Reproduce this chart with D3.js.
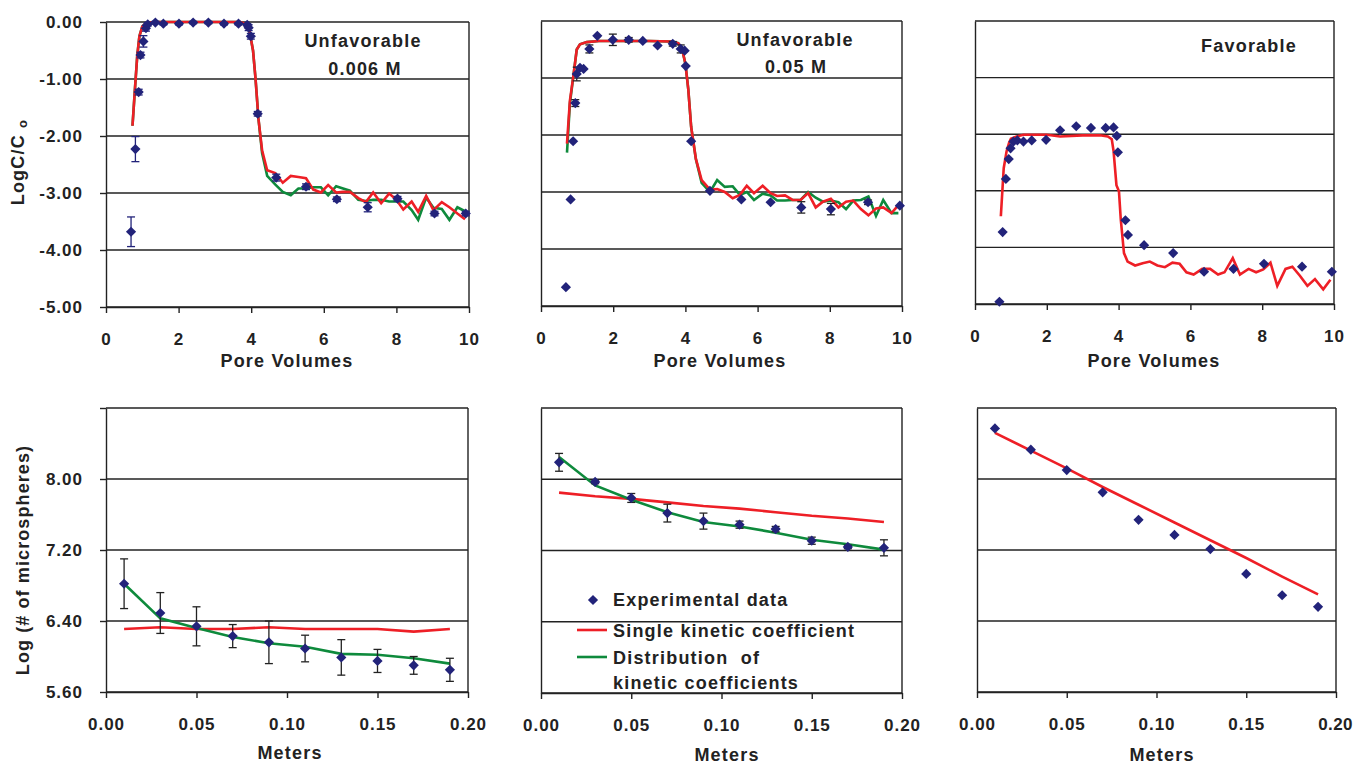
<!DOCTYPE html>
<html><head><meta charset="utf-8">
<script src="https://cdn.jsdelivr.net/npm/d3@7"></script>
<style>body{margin:0;background:#fff}</style>
</head><body><svg id="c" width="1353" height="767"></svg>
<script>
// ---------- tick labels ----------
const pvTicks = [0, 2, 4, 6, 8, 10];
const logCTicks = [0, -1, -2, -3, -4, -5];
const meterTicks = [0, 0.05, 0.10, 0.15, 0.20];
const microTicks = [5.6, 6.4, 7.2, 8.0, 8.8];
const microLabelled = [5.6, 6.4, 7.2, 8.0];

// ---------- top-left: Unfavorable 0.006 M ----------
const ufLowPV = [0.69,0.81,0.90,0.95,1.03,1.10,1.15,1.36,1.58,2.01,2.40,2.82,3.25,3.65,3.89,3.93,3.99,4.18,4.69,5.51,6.36,7.21,8.03,9.05,9.91];
const ufLowObs = [-3.68,-2.23,-1.23,-0.58,-0.34,-0.11,-0.04,-0.01,-0.03,-0.03,-0.01,-0.01,-0.03,-0.03,-0.05,-0.10,-0.25,-1.61,-2.73,-2.89,-3.11,-3.25,-3.10,-3.36,-3.36];
const ufLowErr = [0.26,0.22,0.05,0.05,0.10,0.05,0.03,0.02,0.02,0.02,0.02,0.02,0.02,0.02,0.02,0.05,0.05,0.04,0.06,0.05,0.04,0.08,0.04,0.04,0.04];
const ufLowModelPV = [0.73,0.80,0.86,0.92,1.0,1.1,1.3,2.0,3.0,3.7,3.85,3.95,4.05,4.12,4.2,4.3,4.44,4.66,4.87,5.09,5.30,5.51,5.71,5.92,6.12,6.34,6.53,6.72,6.95,7.16,7.36,7.58,7.80,7.99,8.19,8.42,8.60,8.82,9.02,9.25,9.46,9.68,9.89];
const ufLowSingle = [-1.82,-1.15,-0.6,-0.25,-0.08,-0.02,0,0,0,0,-0.03,-0.15,-0.5,-1.0,-1.7,-2.25,-2.6,-2.65,-2.82,-2.70,-2.72,-2.74,-2.94,-2.99,-2.86,-2.99,-2.98,-2.98,-3.09,-3.16,-2.99,-3.18,-3.01,-3.11,-3.29,-3.15,-3.33,-3.05,-3.30,-3.16,-3.25,-3.36,-3.46];
const ufLowDist = [-1.82,-1.15,-0.6,-0.25,-0.08,-0.02,0,0,0,0,-0.03,-0.15,-0.5,-1.0,-1.7,-2.3,-2.7,-2.85,-2.98,-3.04,-2.92,-2.92,-2.90,-2.90,-3.04,-2.88,-2.92,-2.96,-3.12,-3.14,-3.12,-3.12,-3.15,-3.15,-3.15,-3.30,-3.47,-3.08,-3.26,-3.28,-3.47,-3.25,-3.32];

// ---------- top-middle: Unfavorable 0.05 M ----------
const ufHighPV = [0.69,0.82,0.89,0.95,0.99,1.08,1.18,1.34,1.56,1.99,2.43,2.82,3.23,3.65,3.87,3.98,4.01,4.16,4.68,5.55,6.36,7.21,8.03,9.06,9.94];
const ufHighObs = [-4.67,-3.13,-2.11,-1.44,-0.93,-0.82,-0.84,-0.49,-0.26,-0.33,-0.33,-0.35,-0.43,-0.40,-0.49,-0.52,-0.79,-2.11,-2.98,-3.13,-3.18,-3.27,-3.30,-3.18,-3.24];
const ufHighErr = [0,0,0,0.06,0.12,0,0,0.07,0,0.10,0.04,0,0,0.04,0.07,0,0,0,0,0,0,0.10,0.10,0.04,0];
const ufHighModelPV = [0.72,0.80,0.90,0.99,1.08,1.27,1.6,2.0,3.0,3.6,3.80,3.9,4.0,4.08,4.16,4.29,4.45,4.68,4.88,5.09,5.31,5.51,5.70,5.90,6.14,6.36,6.54,6.76,6.97,7.19,7.40,7.61,7.81,8.03,8.24,8.45,8.65,8.86,9.07,9.28,9.48,9.71,9.90];
const ufHighSingle = [-2.15,-1.4,-0.95,-0.5,-0.41,-0.37,-0.35,-0.35,-0.35,-0.36,-0.39,-0.47,-0.75,-1.2,-1.86,-2.42,-2.79,-2.96,-2.95,-3.0,-3.11,-3.05,-2.89,-3.02,-2.89,-3.02,-3.07,-3.06,-3.14,-3.14,-3.02,-3.27,-3.17,-3.12,-3.27,-3.17,-3.15,-3.30,-3.41,-3.29,-3.27,-3.37,-3.23];
const ufHighDist = [-2.31,-1.45,-0.95,-0.5,-0.41,-0.37,-0.35,-0.35,-0.35,-0.36,-0.39,-0.47,-0.75,-1.2,-1.86,-2.42,-2.84,-3.0,-2.79,-2.91,-2.9,-3.05,-3.0,-3.14,-3.03,-3.06,-3.15,-3.15,-3.14,-3.14,-3.0,-3.1,-3.17,-3.15,-3.18,-3.30,-3.15,-3.14,-3.08,-3.42,-3.14,-3.37,-3.37];

// ---------- top-right: Favorable ----------
const favPV = [0.68,0.77,0.86,0.94,0.99,1.07,1.18,1.35,1.58,1.98,2.37,2.82,3.23,3.64,3.86,3.95,3.98,4.19,4.26,4.71,5.52,6.38,7.20,8.05,9.11,9.94];
const favObs = [-4.96,-3.73,-2.79,-2.44,-2.25,-2.13,-2.11,-2.13,-2.11,-2.10,-1.93,-1.86,-1.89,-1.89,-1.88,-2.03,-2.32,-3.52,-3.78,-3.96,-4.10,-4.43,-4.38,-4.29,-4.34,-4.43];
const favModelPV = [0.72,0.80,0.88,0.95,1.0,1.16,1.35,2.0,2.37,3.0,3.48,3.70,3.81,3.86,3.94,4.01,4.06,4.15,4.25,4.46,4.67,4.87,5.08,5.29,5.50,5.70,5.89,6.09,6.33,6.55,6.77,6.95,7.18,7.38,7.62,7.83,8.03,8.23,8.42,8.65,8.84,9.05,9.26,9.47,9.70,9.90];
const favSingle = [-3.45,-2.6,-2.3,-2.15,-2.08,-2.04,-2.01,-2.01,-2.04,-2.02,-2.02,-2.04,-2.09,-2.3,-2.9,-3.01,-3.5,-4.1,-4.25,-4.32,-4.28,-4.25,-4.32,-4.35,-4.27,-4.29,-4.44,-4.48,-4.38,-4.38,-4.48,-4.44,-4.19,-4.48,-4.38,-4.44,-4.39,-4.27,-4.68,-4.38,-4.34,-4.50,-4.68,-4.56,-4.74,-4.57];

// ---------- bottom row: retained microspheres vs distance ----------
const meters = [0.01,0.03,0.05,0.07,0.09,0.11,0.13,0.15,0.17,0.19];
const retLowObs = [6.82,6.49,6.34,6.23,6.16,6.09,5.99,5.95,5.90,5.85];
const retLowErr = [0.28,0.23,0.22,0.13,0.24,0.15,0.20,0.13,0.10,0.13];
const retLowSingle = [6.31,6.33,6.31,6.31,6.33,6.31,6.31,6.31,6.28,6.31];
const retLowDist = [6.82,6.43,6.32,6.22,6.15,6.11,6.03,6.02,5.98,5.92];
const retHighObs = [8.19,7.97,7.79,7.62,7.53,7.49,7.44,7.31,7.24,7.23];
const retHighErr = [0.10,0.02,0.05,0.10,0.09,0.04,0.03,0.04,0.02,0.09];
const retHighSingle = [7.85,7.81,7.78,7.74,7.70,7.67,7.63,7.59,7.56,7.52];
const retHighDist = [8.25,7.93,7.77,7.63,7.52,7.47,7.40,7.32,7.27,7.21];
const retFavObs = [8.57,8.33,8.10,7.85,7.54,7.37,7.21,6.93,6.69,6.56];
const retFavSingle = [8.52,8.32,8.12,7.91,7.71,7.51,7.31,7.11,6.90,6.70];

const legendLabels = ["Experimental data", "Single kinetic coefficient", "Distribution  of", "kinetic coefficients"];

// ---------- drawing ----------
const svg = d3.select('#c');
const FONT = '"Liberation Sans", Arial, Helvetica, sans-serif';
const NAVY = '#22237a', RED = '#ee1f26', GREEN = '#0e8a3c', INK = '#222';
const zip = (xs, ys) => xs.map((v, i) => [v, ys[i]]);

function txt(g, x, y, s, size, anchor, ls) {
  return g.append('text').attr('x', x).attr('y', y).text(s)
    .attr('font-family', FONT).attr('font-weight', 'bold')
    .attr('font-size', size).attr('letter-spacing', ls == null ? 1 : ls)
    .attr('text-anchor', anchor || 'start').attr('fill', INK);
}

function panel(o) {
  const x = d3.scaleLinear().domain(o.xDomain).range([o.left, o.right]);
  const y = d3.scaleLinear().domain(o.yDomain).range([o.bottom, o.top]);
  const g = svg.append('g');

  g.selectAll('line.grid').data(o.yTicks).join('line')
    .attr('x1', o.left).attr('x2', o.right)
    .attr('y1', d => y(d)).attr('y2', d => y(d))
    .attr('stroke', INK).attr('stroke-width', 1.4);
  g.append('line').attr('x1', o.right).attr('x2', o.right)
    .attr('y1', o.top).attr('y2', o.bottom).attr('stroke', INK).attr('stroke-width', 1.4);

  const xa = d3.axisBottom(x).tickValues(o.xTicks).tickSize(6).tickSizeOuter(0)
    .tickPadding(20).tickFormat(o.xFmt);
  const xg = g.append('g').attr('transform', `translate(0,${o.bottom})`).call(xa);
  xg.select('.domain').attr('stroke', INK).attr('stroke-width', 1.4);
  xg.selectAll('.tick line').attr('stroke', INK).attr('stroke-width', 1.4);
  xg.selectAll('.tick text').attr('font-family', FONT).attr('font-weight', 'bold')
    .attr('font-size', 17).attr('letter-spacing', 1).attr('fill', INK);
  if (o.tightLast) {
    xg.selectAll('.tick text').filter((d, i, n) => i === n.length - 1)
      .attr('letter-spacing', 0.3).attr('dx', -1);
  }

  const ya = d3.axisLeft(y).tickValues(o.showY ? o.yTicks : []).tickSize(o.showY ? 6 : 0)
    .tickSizeOuter(0).tickPadding(17)
    .tickFormat(d => o.yLabelled.includes(d) ? d.toFixed(2) : '');
  const yg = g.append('g').attr('transform', `translate(${o.left},0)`).call(ya);
  yg.select('.domain').attr('stroke', INK).attr('stroke-width', 1.4);
  yg.selectAll('.tick line').attr('stroke', INK).attr('stroke-width', 1.4);
  yg.selectAll('.tick text').attr('font-family', FONT).attr('font-weight', 'bold')
    .attr('font-size', 17).attr('letter-spacing', 1).attr('fill', INK);

  const line = d3.line().x(d => x(d[0])).y(d => y(d[1]));
  (o.lines || []).forEach(L => {
    g.append('path').datum(zip(L.x, L.y)).attr('d', line)
      .attr('fill', 'none').attr('stroke', L.color).attr('stroke-width', 2.6)
      .attr('stroke-linejoin', 'miter');
  });

  if (o.err) {
    const eb = zip(o.px, o.py).map((d, i) => [d[0], d[1], o.err[i]]).filter(d => d[2] > 0);
    const eg = g.append('g').attr('stroke', o.errColor).attr('stroke-width', 1.3);
    eb.forEach(d => {
      const cx = x(d[0]);
      eg.append('line').attr('x1', cx).attr('x2', cx).attr('y1', y(d[1] + d[2])).attr('y2', y(d[1] - d[2]));
      [d[1] + d[2], d[1] - d[2]].forEach(v => eg.append('line')
        .attr('x1', cx - 4).attr('x2', cx + 4).attr('y1', y(v)).attr('y2', y(v)));
    });
  }
  const sym = d3.symbol(d3.symbolSquare, 52);
  g.selectAll('path.pt').data(zip(o.px, o.py)).join('path')
    .attr('d', sym).attr('fill', NAVY)
    .attr('transform', d => `translate(${x(d[0])},${y(d[1])}) rotate(45)`);
  return { g, x, y };
}

const pvFmt = d3.format('d');
const mFmt = d => d.toFixed(2);

panel({ left: 106, right: 469, top: 22, bottom: 307, xDomain: [0, 10], yDomain: [-5, 0],
  xTicks: pvTicks, xFmt: pvFmt, yTicks: logCTicks, yLabelled: logCTicks, showY: true,
  px: ufLowPV, py: ufLowObs, err: ufLowErr, errColor: NAVY,
  lines: [{ x: ufLowModelPV, y: ufLowDist, color: GREEN }, { x: ufLowModelPV, y: ufLowSingle, color: RED }] });
panel({ left: 541, right: 902, top: 21, bottom: 306, xDomain: [0, 10], yDomain: [-5, 0],
  xTicks: pvTicks, xFmt: pvFmt, yTicks: logCTicks, yLabelled: [], showY: false,
  px: ufHighPV, py: ufHighObs, err: ufHighErr, errColor: INK,
  lines: [{ x: ufHighModelPV, y: ufHighDist, color: GREEN }, { x: ufHighModelPV, y: ufHighSingle, color: RED }] });
panel({ left: 975, right: 1334, top: 21, bottom: 304, xDomain: [0, 10], yDomain: [-5, 0],
  xTicks: pvTicks, xFmt: pvFmt, yTicks: logCTicks, yLabelled: [], showY: false,
  px: favPV, py: favObs,
  lines: [{ x: favModelPV, y: favSingle, color: RED }] });

panel({ left: 106, right: 468, top: 408, bottom: 692, xDomain: [0, 0.2], yDomain: [5.6, 8.8],
  xTicks: meterTicks, xFmt: mFmt, yTicks: microTicks, yLabelled: microLabelled, showY: true,
  px: meters, py: retLowObs, err: retLowErr, errColor: INK,
  lines: [{ x: meters, y: retLowSingle, color: RED }, { x: meters, y: retLowDist, color: GREEN }] });
panel({ left: 541, right: 902, top: 408, bottom: 693, xDomain: [0, 0.2], yDomain: [5.6, 8.8],
  xTicks: meterTicks, xFmt: mFmt, yTicks: microTicks, yLabelled: [], showY: false,
  px: meters, py: retHighObs, err: retHighErr, errColor: INK,
  lines: [{ x: meters, y: retHighSingle, color: RED }, { x: meters, y: retHighDist, color: GREEN }] });
panel({ left: 977, right: 1336, top: 408, bottom: 692, xDomain: [0, 0.2], yDomain: [5.6, 8.8],
  xTicks: meterTicks, xFmt: mFmt, yTicks: microTicks, yLabelled: [], showY: false, tightLast: true,
  px: meters, py: retFavObs,
  lines: [{ x: meters, y: retFavSingle, color: RED }] });

const T = svg.append('g');
txt(T, 363, 47, 'Unfavorable', 18, 'middle', 1.2);
txt(T, 365, 75, '0.006 M', 18, 'middle', 1.2);
txt(T, 795, 46, 'Unfavorable', 18, 'middle', 1.2);
txt(T, 796, 73, '0.05 M', 18, 'middle', 1.2);
txt(T, 1249, 52, 'Favorable', 18, 'middle', 1.2);

txt(T, 287, 367, 'Pore Volumes', 18, 'middle', 1.2);
txt(T, 720, 367, 'Pore Volumes', 18, 'middle', 1.2);
txt(T, 1154, 367, 'Pore Volumes', 18, 'middle', 1.2);
txt(T, 290, 759, 'Meters', 18, 'middle', 1.2);
txt(T, 727, 761, 'Meters', 18, 'middle', 1.2);
txt(T, 1162, 761, 'Meters', 18, 'middle', 1.2);

const yl1 = txt(T, 0, 0, '', 18, 'middle', 1.2)
  .attr('transform', 'translate(24,162) rotate(-90)');
yl1.append('tspan').text('LogC/C ');
yl1.append('tspan').text('o').attr('font-size', 13).attr('dy', 3);
txt(T, 0, 0, 'Log (# of microspheres)', 18, 'middle', 1.1)
  .attr('transform', 'translate(29,560) rotate(-90)');

const Lg = svg.append('g');
Lg.append('path').attr('d', d3.symbol(d3.symbolSquare, 52)).attr('fill', NAVY)
  .attr('transform', 'translate(593,600) rotate(45)');
Lg.append('line').attr('x1', 577).attr('x2', 607).attr('y1', 630).attr('y2', 630)
  .attr('stroke', RED).attr('stroke-width', 2.6);
Lg.append('line').attr('x1', 577).attr('x2', 607).attr('y1', 657).attr('y2', 657)
  .attr('stroke', GREEN).attr('stroke-width', 2.6);
txt(Lg, 613, 606, legendLabels[0], 18, 'start', 1.2);
txt(Lg, 613, 637, legendLabels[1], 18, 'start', 1.2);
txt(Lg, 613, 664, legendLabels[2], 18, 'start', 1.2).style('white-space', 'pre');
txt(Lg, 613, 689, legendLabels[3], 18, 'start', 1.2);
</script></body></html>
